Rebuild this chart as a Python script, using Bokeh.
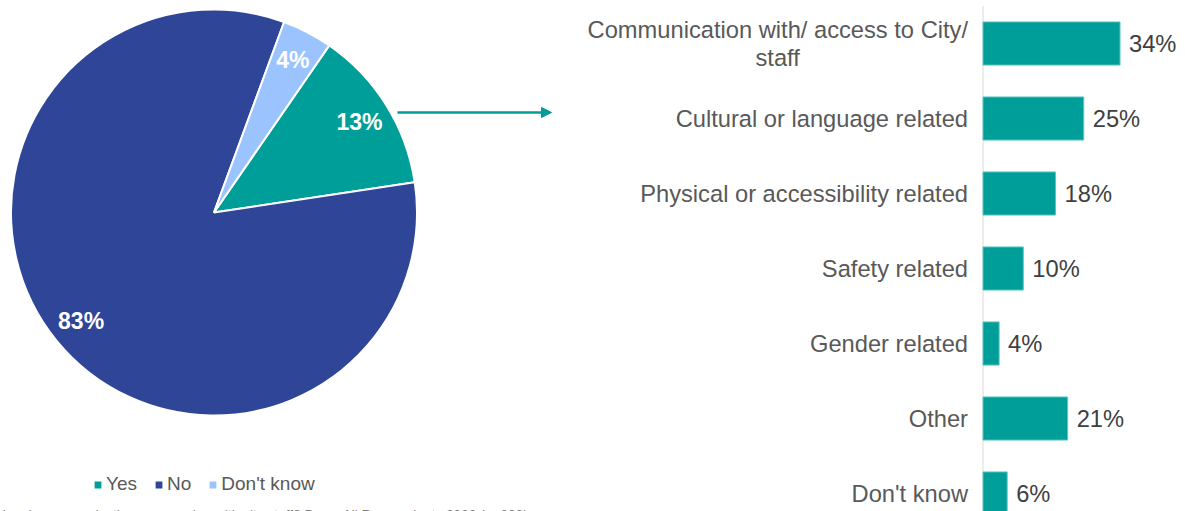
import math

from bokeh.core.properties import value
from bokeh.embed import file_html
from bokeh.layouts import row
from bokeh.models import (Arrow, ColumnDataSource, Label, Legend, LegendItem,
                          NormalHead, Range1d)
from bokeh.plotting import figure
from bokeh.resources import INLINE

# ---- data -------------------------------------------------------------
pie_labels = ["Yes", "No", "Don't know"]
pie_values = [13, 83, 4]
pie_colors = ["#009E98", "#2E4598", "#9BC4FF"]

bar_categories = [
    "Communication with/ access to City/\nstaff",
    "Cultural or language related",
    "Physical or accessibility related",
    "Safety related",
    "Gender related",
    "Other",
    "Don't know",
]
bar_values = [34, 25, 18, 10, 4, 21, 6]

footnote = ("barriers in communicating or engaging with city staff? "
            "Base: All Respondents 2022 (n=600)")

# ---- styling ----------------------------------------------------------
FONT = "Liberation Sans"
TEAL = "#009E98"
W, H = 1185, 511
LEFT_W = 560
RIGHT_W = W - LEFT_W
CAT_SIZE = 23.7       # px, category and value labels
LINE_PX = 28.0        # line pitch of wrapped category labels

# advance widths (1/1000 em) of Liberation Sans / Arial, used to centre
# the continuation line of a wrapped category label under its first line
_ADV = dict(zip("abcdefghijklmnopqrstuvwxyz",
                [556, 556, 500, 556, 556, 278, 556, 556, 222, 222, 500, 222, 833,
                 556, 556, 556, 556, 333, 500, 278, 556, 500, 722, 500, 500, 500]))
_ADV.update(zip("ABCDEFGHIJKLMNOPQRSTUVWXYZ",
                [667, 667, 722, 722, 667, 611, 778, 722, 278, 500, 667, 556, 833,
                 722, 778, 667, 778, 722, 667, 611, 722, 667, 944, 667, 667, 611]))
_ADV.update({" ": 278, "/": 278, "'": 191, "%": 889, "-": 333, ",": 278, ".": 278})
_ADV.update({d: 556 for d in "0123456789"})


def text_width(s, size):
    return sum(_ADV.get(ch, 556) for ch in s) / 1000.0 * size


# ---- pie (left panel) -------------------------------------------------
R_PX = 203.0           # pie radius in pixels; data radius is 1
CX, CY = 213.5, 212.0  # pie centre measured from the panel's top-left
FIRST_ANGLE = 55.4     # degrees; slices run clockwise from here

starts, ends, lx, ly = [], [], [], []
a = math.radians(FIRST_ANGLE)
for v in pie_values:
    b = a - v / 100.0 * 2 * math.pi
    starts.append(b)
    ends.append(a)
    mid = (a + b) / 2
    lx.append(0.845 * math.cos(mid))
    ly.append(0.845 * math.sin(mid))
    a = b

pie_src = ColumnDataSource(dict(
    label=pie_labels, start=starts, end=ends, color=pie_colors,
    lx=lx, ly=ly, pct=[f"{v}%" for v in pie_values],
))

left = figure(
    width=LEFT_W, height=H,
    x_range=Range1d(-CX / R_PX, (LEFT_W - CX) / R_PX),
    y_range=Range1d(-(H - CY) / R_PX, CY / R_PX),
    x_axis_location=None, y_axis_location=None,
    output_backend="svg", toolbar_location=None, min_border=0,
)
left.grid.visible = False
left.outline_line_color = None

wedges = left.wedge(
    x=0, y=0, radius=1, start_angle="start", end_angle="end",
    fill_color="color", line_color="white", line_width=2, source=pie_src,
)
left.text(
    x="lx", y="ly", text="pct", source=pie_src,
    text_color="white", text_font=value(FONT), text_font_style="bold",
    text_font_size="23px", text_align="center", text_baseline="middle",
)

# arrow pointing from the "Yes" slice to the breakdown
left.add_layout(Arrow(
    end=NormalHead(size=10, fill_color=TEAL, line_color=TEAL),
    x_start=(397 - CX) / R_PX, y_start=(CY - 112) / R_PX,
    x_end=(551 - CX) / R_PX, y_end=(CY - 112) / R_PX,
    line_color=TEAL, line_width=2.5,
))

legend = Legend(
    items=[LegendItem(label=lab, renderers=[wedges], index=i)
           for i, lab in enumerate(pie_labels)],
    orientation="horizontal", location=(92, 16),
    glyph_width=11, glyph_height=11, label_standoff=3, spacing=16,
    padding=0, margin=0, background_fill_alpha=0, border_line_color=None,
    label_text_font=FONT, label_text_font_size="19px",
    label_text_color="#595959",
)
left.add_layout(legend)

# source note, running off the bottom-left edge of the page
left.add_layout(Label(
    x=528, y=-3, x_units="screen", y_units="screen", text=footnote,
    text_align="right", text_baseline="alphabetic",
    text_font=FONT, text_font_size="13.7px", text_color="#7F7F7F",
))

# ---- bars (right panel) -----------------------------------------------
PX_PER_PCT = 4.03
ZERO_PX = 422.5        # where 0% sits inside the right panel
ROW_PX = 75.0
FIRST_ROW_PX = 43.0
LABEL_GAP = 15         # px between label's right edge and the axis

bar_src = ColumnDataSource(dict(
    idx=list(range(len(bar_categories))),
    val=bar_values, lab=[f"{v}%" for v in bar_values],
))

# split wrapped labels: first line right-aligned against the axis,
# further lines centred beneath it
first = dict(idx=[], text=[], dy=[])
rest = dict(idx=[], text=[], dy=[], dx=[])
for i, cat in enumerate(bar_categories):
    lines = cat.split("\n")
    n = len(lines)
    w0 = text_width(lines[0], CAT_SIZE)
    for k, line in enumerate(lines):
        dy = (k - (n - 1) / 2.0) * LINE_PX
        if k == 0:
            first["idx"].append(i); first["text"].append(line); first["dy"].append(dy)
        else:
            rest["idx"].append(i); rest["text"].append(line); rest["dy"].append(dy)
            rest["dx"].append(-LABEL_GAP - w0 / 2.0)

right = figure(
    width=RIGHT_W, height=H,
    x_range=Range1d(-ZERO_PX / PX_PER_PCT, (RIGHT_W - ZERO_PX) / PX_PER_PCT),
    y_range=Range1d((H - FIRST_ROW_PX) / ROW_PX, -FIRST_ROW_PX / ROW_PX),
    x_axis_location=None, y_axis_location=None,
    output_backend="svg", toolbar_location=None, min_border=0,
)
right.grid.visible = False
right.outline_line_color = None

right.segment(x0=0, y0=-0.5, x1=0, y1=len(bar_categories),
              line_color="#D9D9D9", line_width=1)
right.hbar(y="idx", left=0, right="val", height=0.575, source=bar_src,
           fill_color=TEAL, line_color="#5CC6C1", line_width=1)

cat_style = dict(text_baseline="middle", text_font=value(FONT),
                 text_font_size=f"{CAT_SIZE}px", text_color="#595959")
right.text(x=0, y="idx", text="text", source=ColumnDataSource(first),
           x_offset=-LABEL_GAP, y_offset="dy", text_align="right", **cat_style)
right.text(x=0, y="idx", text="text", source=ColumnDataSource(rest),
           x_offset="dx", y_offset="dy", text_align="center", **cat_style)

right.text(
    x="val", y="idx", text="lab", source=bar_src, x_offset=9,
    text_align="left", text_baseline="middle",
    text_font=value(FONT), text_font_size=f"{CAT_SIZE}px", text_color="#404040",
)

layout = row(left, right, spacing=0)
open("out.html", "w").write(file_html(layout, INLINE))
